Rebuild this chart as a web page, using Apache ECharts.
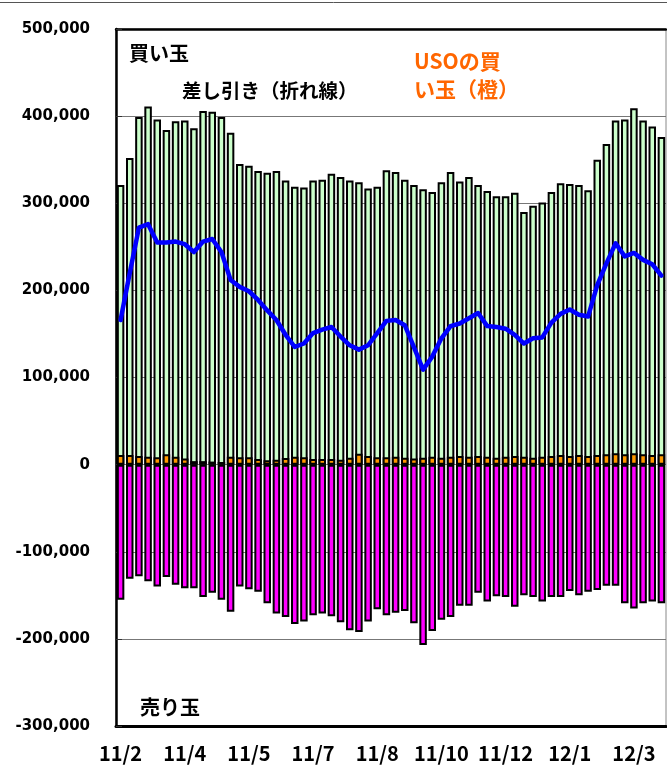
<!DOCTYPE html>
<html>
<head>
<meta charset="utf-8">
<script src="https://cdn.jsdelivr.net/npm/echarts@6/dist/echarts.min.js"></script>
<style>
html,body{margin:0;padding:0;background:#fff;}
#chart{width:667px;height:769px;}
</style>
</head>
<body>
<div id="chart"></div>
<script>
// Tick labels shown every 7th week on the category axis
const tickLabels = ['11/2','11/4','11/5','11/7','11/8','11/10','11/12','12/1','12/3'];
const labelEvery = 7;
const weekCount = 60;

// 買い玉 (long positions)
const longPos = [
  321000,352000,399000,411000,396000,384000,394000,395000,386000,406000,
  405000,399000,381000,345000,343000,337000,335000,337000,326000,319000,
  318000,326000,327000,334000,330000,326000,324000,317000,319000,338000,
  336000,327000,321000,316000,313000,324000,336000,325000,330000,321000,
  314000,308000,308000,312000,290000,297000,301000,313000,323000,322000,
  321000,315000,350000,368000,395000,396000,409000,395000,388000,376000
];

// USOの買い玉 (USO long positions, orange)
const usoLong = [
  11000,11000,10000,9000,8500,12000,9000,7000,4000,4000,
  3500,3000,9000,8500,8500,6500,5000,5500,7500,9000,
  8500,6500,6500,6500,5500,8000,12500,10000,8500,8500,
  9000,8000,7000,8000,9000,8000,9000,10000,9000,10000,
  9000,8000,9000,10000,9000,8000,9000,10000,11000,10000,
  11000,10000,11000,12000,13000,12000,13000,12000,11000,12000
];

// 売り玉 (short positions)
const shortPos = [
  -155000,-131000,-128000,-134000,-140000,-129000,-138000,-142000,-142000,-152000,
  -147000,-155000,-169000,-140000,-143000,-146000,-159000,-171000,-175000,-183000,
  -180000,-173000,-171000,-174000,-181000,-190000,-192000,-180000,-166000,-173000,
  -170000,-168000,-182000,-207000,-191000,-178000,-175000,-162000,-162000,-147000,
  -157000,-151000,-152000,-163000,-150000,-152000,-157000,-152000,-152000,-145000,
  -150000,-146000,-144000,-139000,-139000,-159000,-165000,-159000,-157000,-159000
];

// 差し引き (net, blue line)
const netPos = [
  166000,220000,272000,276000,255000,255000,256000,253000,244000,256000,
  259000,244000,212000,204000,199000,189000,177000,166000,149000,135000,
  139000,151000,155000,158000,147000,137000,132000,137000,151000,165000,
  166000,160000,135000,109000,124000,145000,159000,162000,168000,174000,
  159000,158000,156000,149000,139000,145000,146000,163000,173000,178000,
  172000,170000,206000,231000,254000,239000,243000,235000,230000,217000
];

const categories = Array.from({length: weekCount}, (_, i) => 'w' + (i + 1));

const chart = echarts.init(document.getElementById('chart'), null, {renderer: 'canvas'});

const jpFont = '"Noto Sans CJK JP", sans-serif';
const barStyle = c => ({color: c, borderColor: '#000', borderWidth: 2});

chart.setOption({
  animation: false,
  backgroundColor: '#fff',
  grid: {
    left: 116, right: 1, top: 29, bottom: 43,
    show: true, borderColor: '#888', borderWidth: 1, backgroundColor: 'transparent'
  },
  xAxis: [{
    type: 'category',
    data: categories,
    boundaryGap: true,
    position: 'bottom',
    axisLine: {onZero: false, lineStyle: {color: '#000', width: 3}},
    axisTick: {show: false},
    axisLabel: {
      interval: labelEvery - 1,
      margin: 17,
      color: '#000',
      fontFamily: jpFont,
      fontWeight: 'bold',
      fontSize: 20,
      formatter: (v, i) => tickLabels[Math.round(i / labelEvery)] || ''
    },
    splitLine: {show: false}
  }, {
    type: 'category',
    data: categories,
    position: 'top',
    axisLine: {onZero: false, lineStyle: {color: '#000', width: 2.5}},
    axisTick: {show: false},
    axisLabel: {show: false}
  }],
  yAxis: {
    type: 'value',
    min: -300000, max: 500000, interval: 100000,
    axisLine: {show: true, lineStyle: {color: '#000', width: 2.5}},
    axisTick: {show: true, inside: true, length: 6, lineStyle: {color: '#333', width: 1}},
    axisLabel: {
      margin: 26,
      color: '#000',
      fontFamily: '"DejaVu Sans", sans-serif',
      fontWeight: 'bold',
      fontSize: 15,
      formatter: v => v.toLocaleString('en-US')
    },
    splitLine: {show: true, lineStyle: {color: '#777', width: 1}}
  },
  series: [{
    name: '買い玉',
    type: 'bar',
    data: longPos,
    barWidth: 7.5,
    barGap: '-100%',
    itemStyle: barStyle('#CCFFCC')
  }, {
    name: 'USOの買い玉',
    type: 'bar',
    data: usoLong,
    barWidth: 7.5,
    barGap: '-100%',
    itemStyle: barStyle('#FF9900')
  }, {
    name: '売り玉',
    type: 'bar',
    data: shortPos,
    barWidth: 7.5,
    barGap: '-100%',
    itemStyle: barStyle('#FF00FF')
  }, {
    name: '差し引き',
    type: 'line',
    data: netPos,
    symbol: 'none',
    z: 5,
    lineStyle: {color: '#0000FF', width: 4.5, join: 'round', cap: 'round'}
  }],
  graphic: [{
    type: 'line',
    shape: {x1: 0, y1: 2.5, x2: 667, y2: 2.5},
    style: {stroke: '#555', lineWidth: 1}
  }, {
    type: 'text', left: 129, top: 43,
    style: {text: '買い玉', fill: '#000', font: 'bold 20px "Noto Sans CJK JP"'}
  }, {
    type: 'text', left: 182, top: 81,
    style: {text: '差し引き（折れ線）', fill: '#000', font: 'bold 19.5px "Noto Sans CJK JP"'}
  }, {
    type: 'text', left: 414, top: 47,
    style: {text: 'USOの買\nい玉（橙）', fill: '#FF6600', font: 'bold 21px "Noto Sans CJK JP"', lineHeight: 28}
  }, {
    type: 'text', left: 140, top: 697,
    style: {text: '売り玉', fill: '#000', font: 'bold 20px "Noto Sans CJK JP"'}
  }]
});
</script>
</body>
</html>
